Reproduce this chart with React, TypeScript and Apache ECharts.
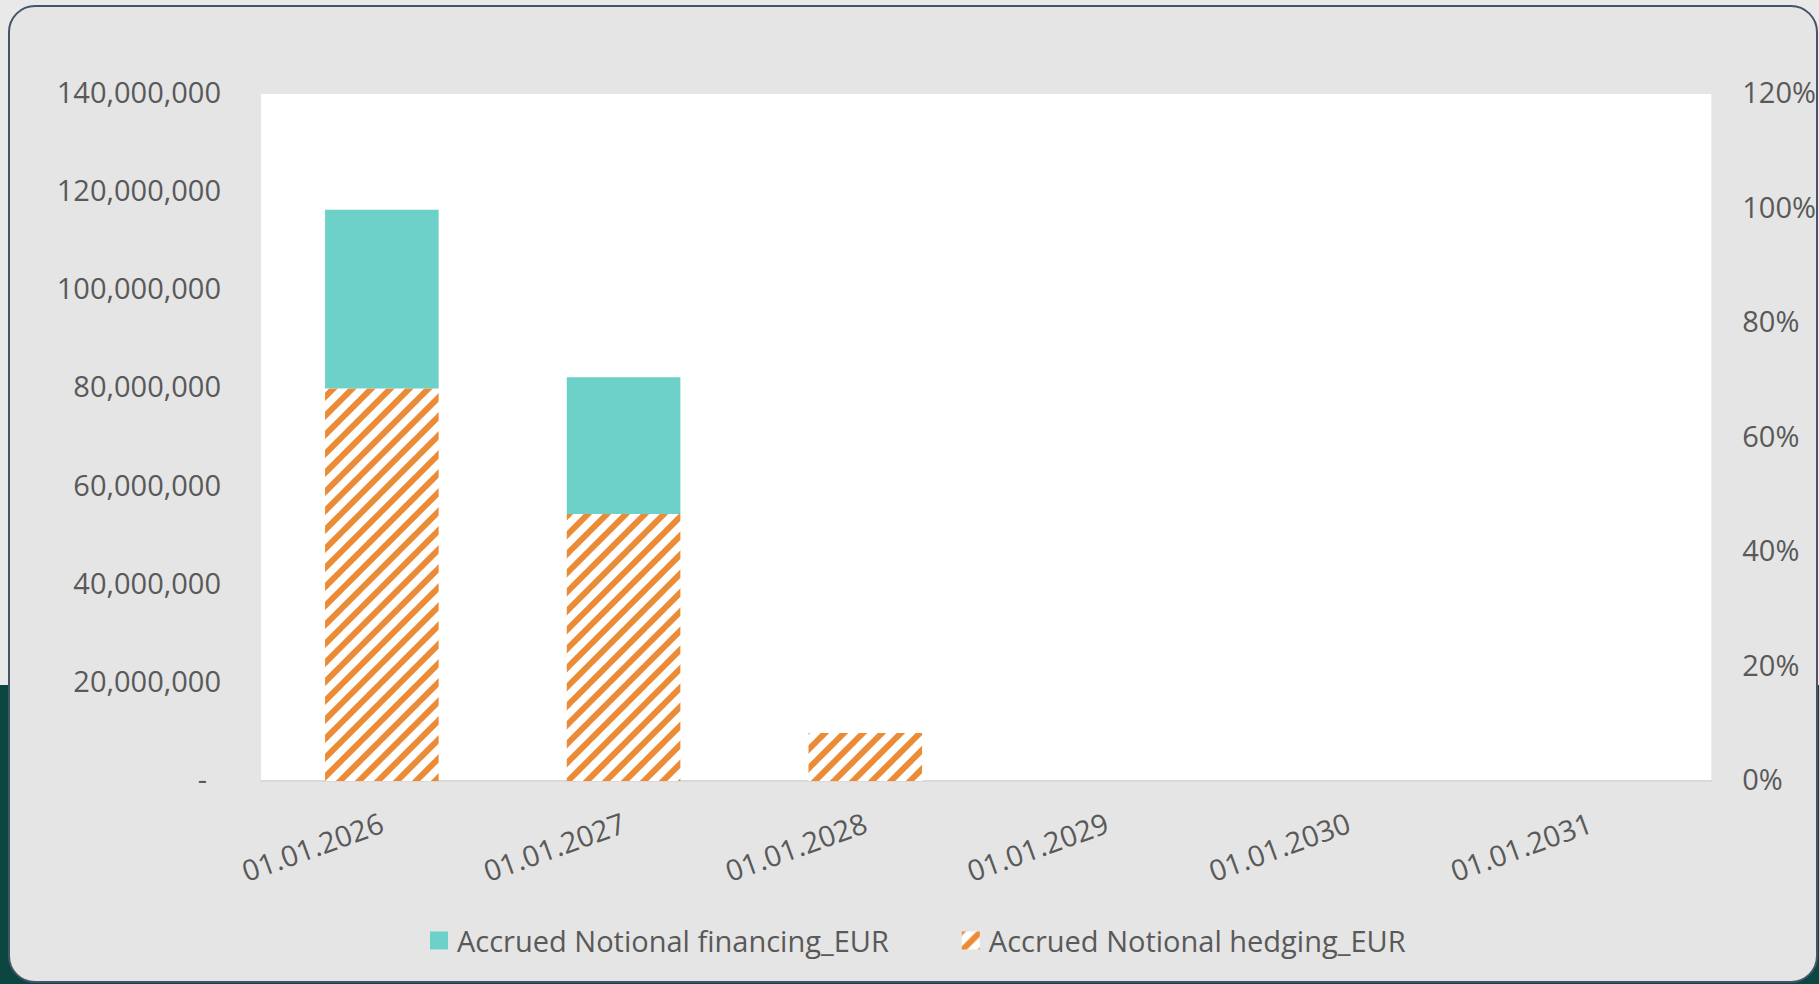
import React, { useEffect, useRef } from "react";
import * as echarts from "echarts";

const categories = ["01.01.2026", "01.01.2027", "01.01.2028", "01.01.2029", "01.01.2030", "01.01.2031"];
const financingName = "Accrued Notional financing_EUR";
const hedgingName = "Accrued Notional hedging_EUR";
const hedgingValues = [80000000, 54400000, 9800000, 0, 0, 0];
const financingValues = [36400000, 27900000, 0, 0, 0, 0];
const leftAxisMax = 140000000;
const leftAxisStep = 20000000;
const rightAxisMax = 1.2;
const rightAxisStep = 0.2;

const FONT = "'Open Sans', 'Noto Sans', sans-serif";
const TEXT = "#595959";
const TEAL = "#6dd1ca";
const ORANGE = "#ec8b35";
const FS = 29;

function makeHatch(): HTMLCanvasElement {
  const s = 19;
  const c = document.createElement("canvas");
  c.width = s;
  c.height = s;
  const ctx = c.getContext("2d")!;
  ctx.fillStyle = "#ffffff";
  ctx.fillRect(0, 0, s, s);
  ctx.strokeStyle = ORANGE;
  ctx.lineWidth = 6;
  for (const o of [-s, 0, s]) {
    ctx.beginPath();
    ctx.moveTo(o - 2, s + 2);
    ctx.lineTo(o + s + 2, -2);
    ctx.stroke();
  }
  return c;
}

export default function App() {
  const ref = useRef<HTMLDivElement>(null);

  useEffect(() => {
    document.body.style.margin = "0";
    if (!ref.current) return;
    const chart = echarts.init(ref.current, undefined, { renderer: "svg" });
    const hatch = { image: makeHatch(), repeat: "repeat" as const };
    chart.setOption({
      animation: false,
      textStyle: { fontFamily: FONT, color: TEXT },
      grid: {
        left: 261,
        top: 94,
        right: 107,
        bottom: 203,
        show: true,
        backgroundColor: "#ffffff",
        borderWidth: 0,
      },
      legend: {
        left: 430,
        top: 926,
        padding: 0,
        itemWidth: 18,
        itemHeight: 18,
        itemGap: 73,
        icon: "rect",
        data: [financingName, hedgingName],
        textStyle: { fontFamily: FONT, fontSize: FS, color: TEXT, padding: [0, 0, 0, 4] },
      },
      xAxis: {
        type: "category",
        data: categories,
        axisLine: { show: true, lineStyle: { color: "#d9d9d9", width: 2 } },
        axisTick: { show: false },
        axisLabel: {
          rotate: 20,
          margin: 40,
          interval: 0,
          fontFamily: FONT,
          fontSize: FS,
          color: TEXT,
        },
      },
      yAxis: [
        {
          type: "value",
          min: 0,
          max: leftAxisMax,
          interval: leftAxisStep,
          axisLine: { show: false },
          axisTick: { show: false },
          splitLine: { show: false },
          axisLabel: {
            margin: 40,
            fontFamily: FONT,
            fontSize: FS,
            color: TEXT,
            formatter: (v: number) => (v === 0 ? "{z|-}" : "{n|" + v.toLocaleString("en-US") + "}"),
            rich: {
              n: { fontFamily: FONT, fontSize: FS, color: TEXT, padding: [0, 0, 5, 0] },
              z: { fontFamily: FONT, fontSize: FS, color: TEXT, padding: [0, 14, 5, 0] },
            },
          },
        },
        {
          type: "value",
          min: 0,
          max: rightAxisMax,
          interval: rightAxisStep,
          position: "right",
          axisLine: { show: false },
          axisTick: { show: false },
          splitLine: { show: false },
          axisLabel: {
            margin: 31,
            fontFamily: FONT,
            fontSize: FS,
            color: TEXT,
            formatter: (v: number) => "{p|" + Math.round(v * 100) + "%}",
            rich: { p: { fontFamily: FONT, fontSize: FS, color: TEXT, padding: [0, 0, 5, 0] } },
          },
        },
      ],
      series: [
        {
          name: hedgingName,
          type: "bar",
          stack: "total",
          barWidth: "47%",
          data: hedgingValues,
          itemStyle: { color: hatch },
        },
        {
          name: financingName,
          type: "bar",
          stack: "total",
          barWidth: "47%",
          data: financingValues,
          itemStyle: { color: TEAL },
        },
      ],
    });
    return () => chart.dispose();
  }, []);

  return (
    <div
      style={{
        position: "absolute",
        left: 0,
        top: 0,
        width: 1819,
        height: 984,
        background: "linear-gradient(to bottom, #e9e9e9 0px, #e9e9e9 685px, #0b4641 685px, #0b4641 984px)",
        overflow: "hidden",
      }}
    >
      <div
        style={{
          position: "absolute",
          left: 8,
          top: 5,
          width: 1810,
          height: 978,
          boxSizing: "border-box",
          border: "2px solid #44546a",
          borderRadius: 27,
          background: "#e5e5e5",
        }}
      />
      <div ref={ref} style={{ position: "absolute", left: 0, top: 0, width: 1819, height: 984 }} />
    </div>
  );
}
